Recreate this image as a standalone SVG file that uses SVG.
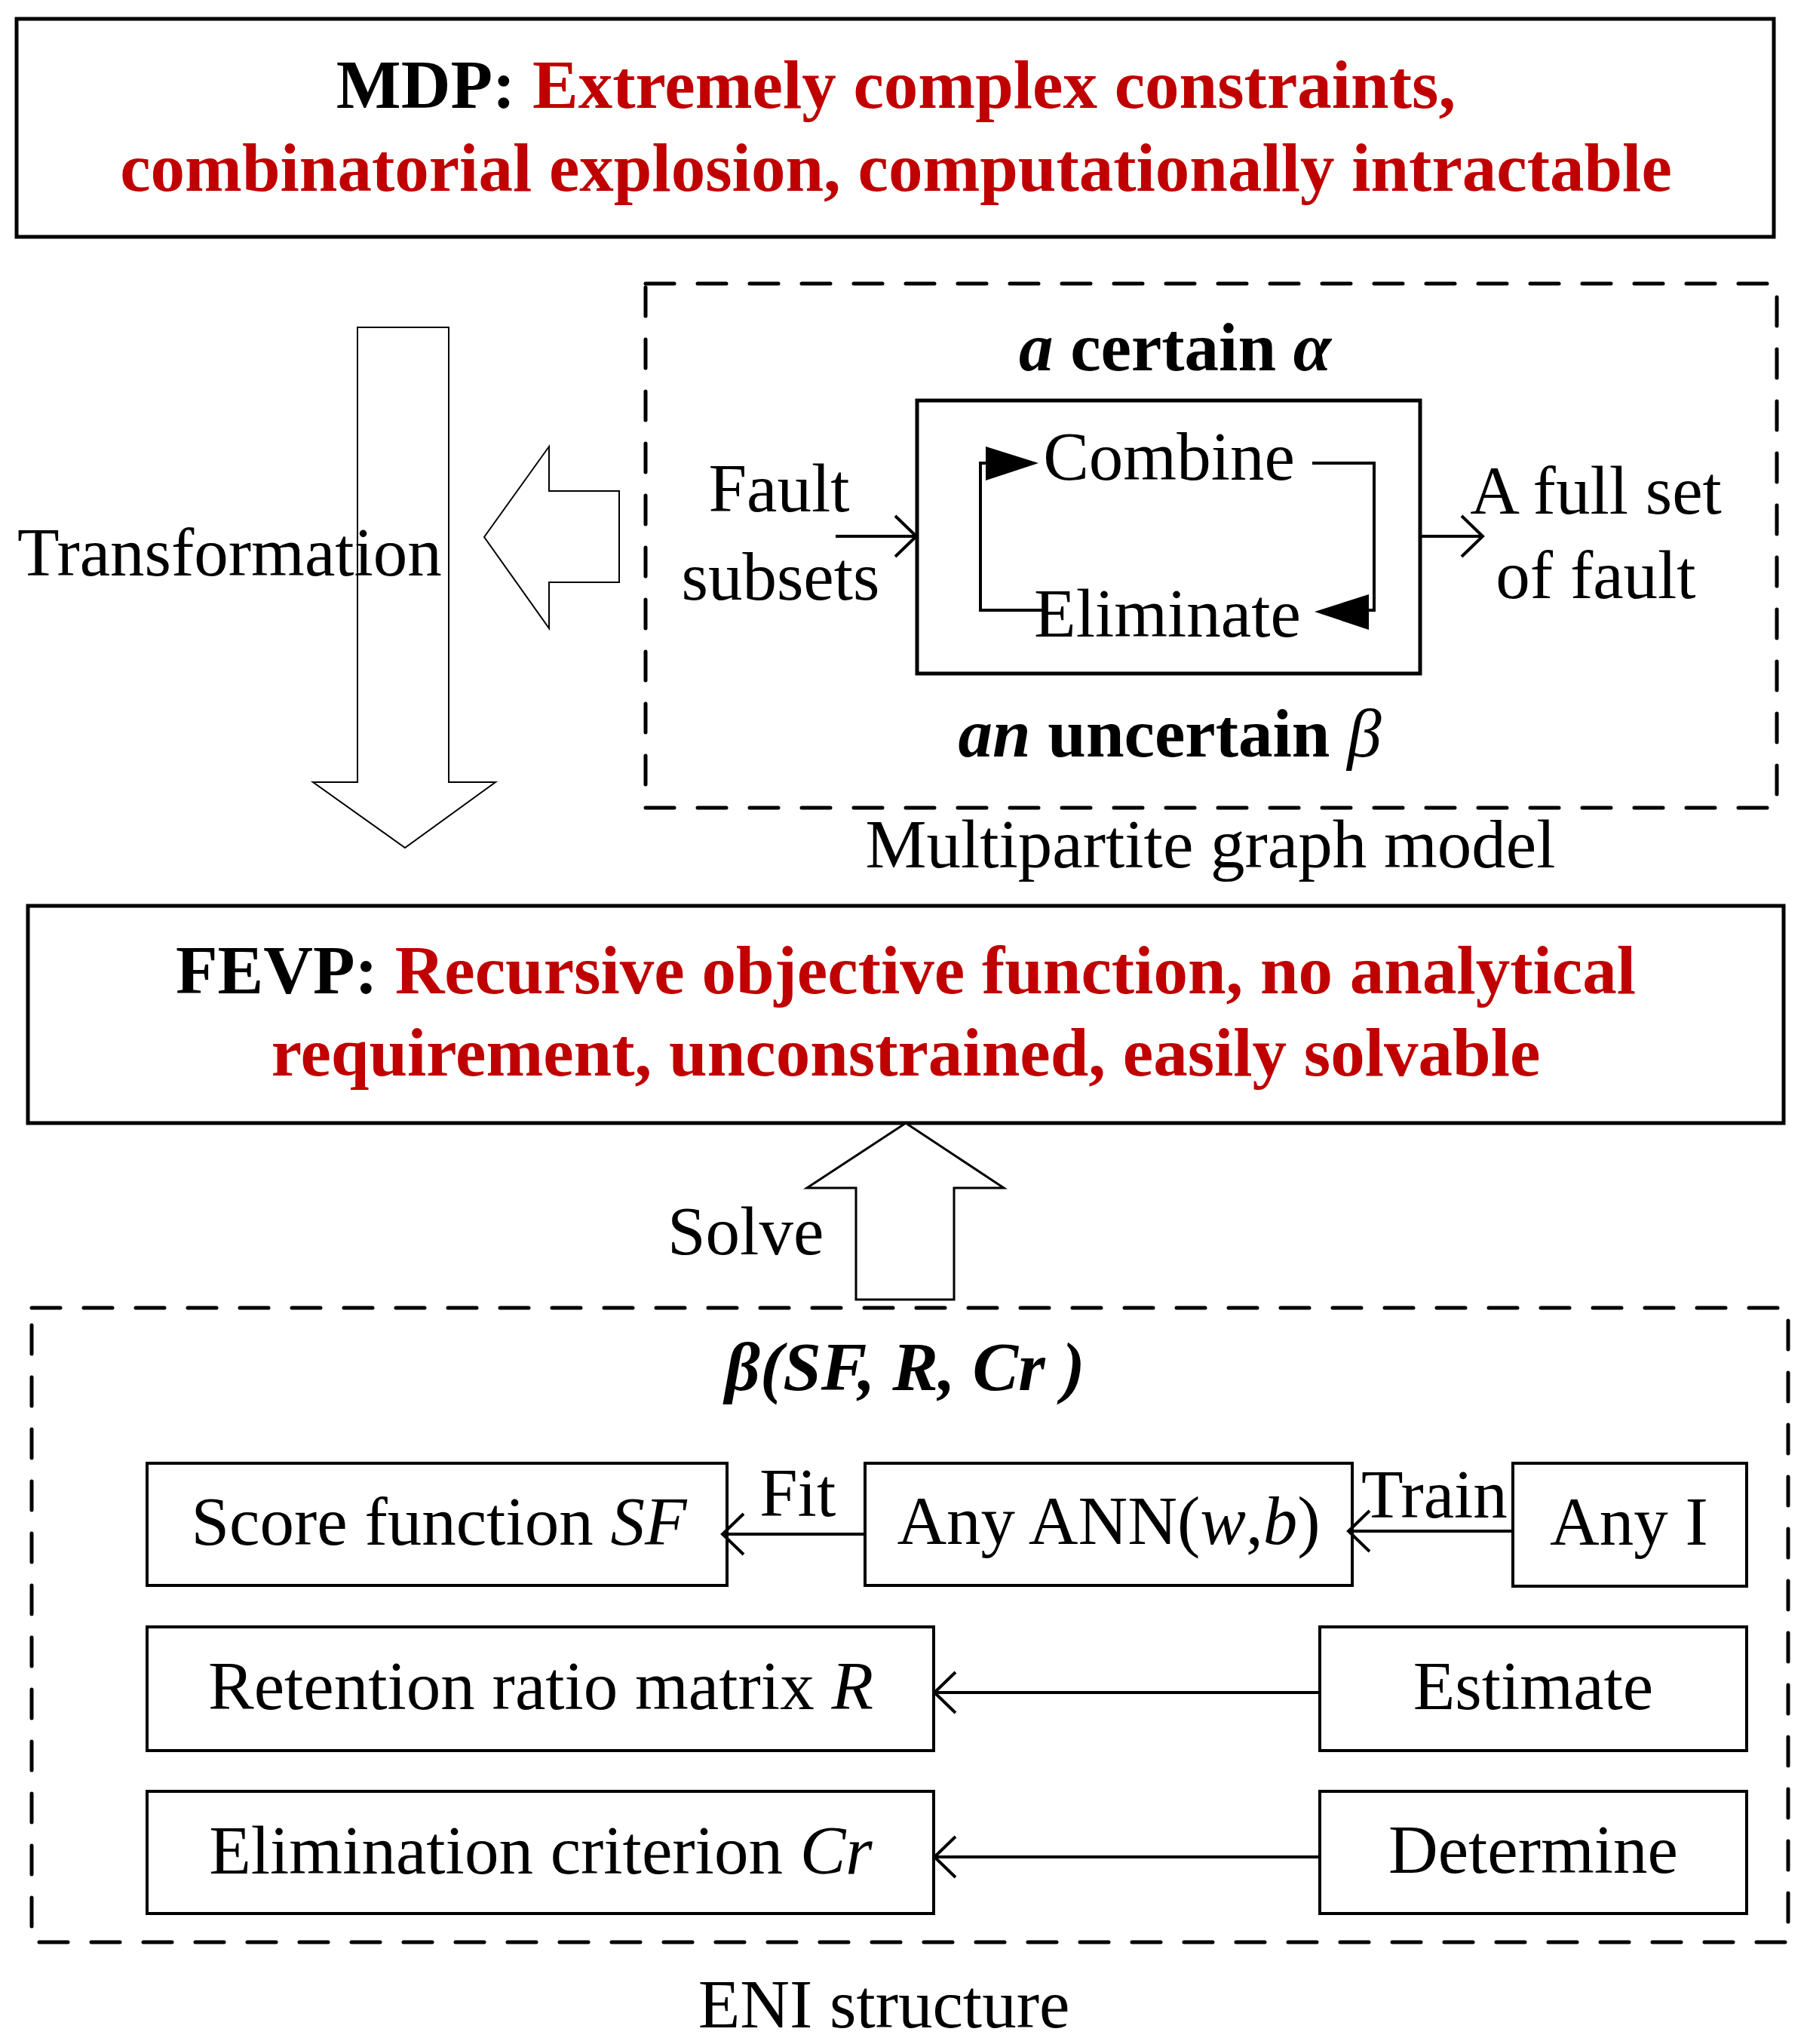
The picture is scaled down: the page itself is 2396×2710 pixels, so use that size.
<svg xmlns="http://www.w3.org/2000/svg" width="2396" height="2710" viewBox="0 0 2396 2710">
<defs>
<style>
text{font-family:"Liberation Serif","Times New Roman",serif;fill:#000}
.t{font-size:91px}
.h{font-size:91px;font-weight:bold}
.red{fill:#C00000}
.it{font-style:italic}
.b{font-weight:bold}
.solid{fill:none;stroke:#000;stroke-width:5}
.box{fill:none;stroke:#000;stroke-width:4}
.dash{fill:none;stroke:#000;stroke-width:5;stroke-dasharray:38 31;stroke-linecap:round}
.big{fill:none;stroke:#000;stroke-width:2;stroke-linejoin:miter}
.ln{fill:none;stroke:#000;stroke-width:4}
</style>
<marker id="chev" markerUnits="userSpaceOnUse" markerWidth="36" markerHeight="62" viewBox="-32 -31 36 62" refX="0" refY="0" orient="auto">
<path d="M-28,-27 L0,0 L-28,27" fill="none" stroke="#000" stroke-width="4"/>
</marker>
</defs>
<rect width="2396" height="2710" fill="#fff"/>

<g id="mdp">
<rect class="solid" x="22" y="25" width="2330" height="289"/>
<text class="h" x="1188" y="143" text-anchor="middle">MDP: <tspan class="red">Extremely complex constraints,</tspan></text>
<text class="h red" x="1188" y="253" text-anchor="middle">combinatorial explosion, computationally intractable</text>
</g>

<g id="transformation">
<path class="big" d="M474,434 H595 V1037 H657 L537,1124 L415,1037 H474 Z"/>
<text class="t" x="23" y="763">Transformation</text>
</g>

<g id="to-left-arrow">
<path class="big" d="M642,712 L728,592 V651 H821 V772 H728 V833 Z"/>
</g>

<g id="multipartite">
<rect class="dash" x="856" y="376" width="1500" height="695"/>
<text class="h" x="1558" y="491" text-anchor="middle"><tspan class="it">a</tspan> certain <tspan class="it">α</tspan></text>
<text class="h" x="1551" y="1003" text-anchor="middle"><tspan class="it">an</tspan> uncertain <tspan class="it" font-weight="normal">β</tspan></text>
<text class="t" x="1605" y="1150" text-anchor="middle">Multipartite graph model</text>
</g>

<g id="fault-subsets">
<text class="t" x="1033" y="678" text-anchor="middle">Fault</text>
<text class="t" x="1035" y="795" text-anchor="middle">subsets</text>
</g>

<g id="loop-box">
<rect class="solid" x="1216" y="531" width="667" height="362"/>
<text class="t" x="1550" y="636" text-anchor="middle">Combine</text>
<text class="t" x="1548" y="844" text-anchor="middle">Eliminate</text>
<path class="ln" d="M1385,809 H1300 V614 H1310"/>
<polygon points="1307,592 1377,614 1307,637" fill="#000"/>
<path class="ln" d="M1740,614 H1822 V809 H1815"/>
<polygon points="1743,811 1815,788 1815,835" fill="#000"/>
</g>

<g id="full-set">
<text class="t" x="2116" y="681" text-anchor="middle">A full set</text>
<text class="t" x="2116" y="793" text-anchor="middle">of fault</text>
</g>

<g id="fevp">
<rect class="solid" x="37" y="1201" width="2328" height="288"/>
<text class="h" x="1201" y="1317" text-anchor="middle">FEVP: <tspan class="red">Recursive objective function, no analytical</tspan></text>
<text class="h red" x="1201" y="1426" text-anchor="middle">requirement, unconstrained, easily solvable</text>
</g>

<g id="solve">
<path d="M1201,1489 L1331,1575 H1265 V1723 H1135 V1575 H1070 Z" fill="#fff" stroke="#000" stroke-width="3"/>
<text class="t" x="885" y="1663">Solve</text>
</g>

<g id="eni">
<rect class="dash" x="42" y="1734" width="2329" height="841"/>
<text class="h it" x="1200" y="1843" text-anchor="middle">β(SF, R, Cr )</text>
<text class="t" x="1172" y="2688" text-anchor="middle">ENI structure</text>
</g>

<g id="score-function">
<rect class="box" x="195" y="1940" width="769" height="162"/>
<text class="t" x="582" y="2048" text-anchor="middle">Score function <tspan class="it">SF</tspan></text>
</g>
<g id="any-ann">
<rect class="box" x="1147" y="1940" width="646" height="162"/>
<text class="t" x="1470" y="2047" text-anchor="middle">Any ANN(<tspan class="it">w</tspan>,<tspan class="it">b</tspan>)</text>
</g>
<g id="any-i">
<rect class="box" x="2006" y="1940" width="310" height="163"/>
<text class="t" x="2160" y="2048" text-anchor="middle">Any I</text>
</g>
<g id="retention">
<rect class="box" x="195" y="2157" width="1043" height="164"/>
<text class="t" x="717" y="2266" text-anchor="middle">Retention ratio matrix <tspan class="it">R</tspan></text>
</g>
<g id="estimate">
<rect class="box" x="1750" y="2157" width="566" height="164"/>
<text class="t" x="2033" y="2266" text-anchor="middle">Estimate</text>
</g>
<g id="criterion">
<rect class="box" x="195" y="2375" width="1043" height="162"/>
<text class="t" x="717" y="2484" text-anchor="middle">Elimination criterion <tspan class="it">Cr</tspan></text>
</g>
<g id="determine">
<rect class="box" x="1750" y="2375" width="566" height="162"/>
<text class="t" x="2033" y="2483" text-anchor="middle">Determine</text>
</g>

<g id="connectors">
<path class="ln" d="M1108,711 H1215" marker-end="url(#chev)"/>
<path class="ln" d="M1883,711 H1966" marker-end="url(#chev)"/>
<path class="ln" d="M1147,2034 H958" marker-end="url(#chev)"/>
<text class="t" x="1007" y="2010" font-size="89">Fit</text>
<path class="ln" d="M2006,2030 H1788" marker-end="url(#chev)"/>
<text class="t" x="1805" y="2012" font-size="89">Train</text>
<path class="ln" d="M1750,2244 H1239" marker-end="url(#chev)"/>
<path class="ln" d="M1750,2462 H1239" marker-end="url(#chev)"/>
</g>
</svg>
